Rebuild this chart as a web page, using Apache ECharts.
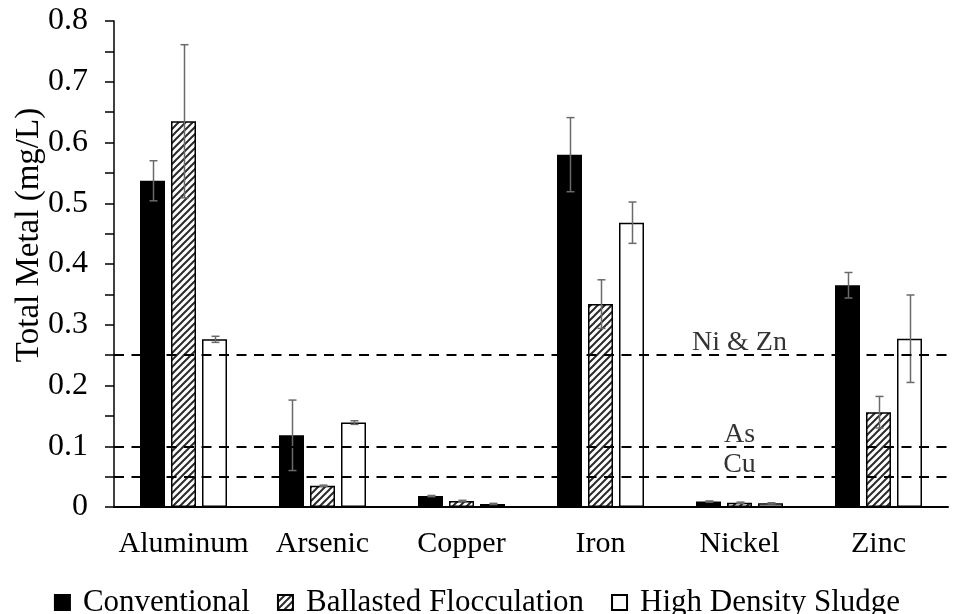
<!DOCTYPE html>
<html>
<head>
<meta charset="utf-8">
<script src="https://cdn.jsdelivr.net/npm/echarts@6/dist/echarts.min.js"></script>
<style>
html,body{margin:0;padding:0;background:#fff;}
#chart{width:954px;height:614px;}
</style>
</head>
<body>
<div id="chart"></div>
<script>
// ---- data ----
const categories = ['Aluminum', 'Arsenic', 'Copper', 'Iron', 'Nickel', 'Zinc'];
const seriesNames = ['Conventional', 'Ballasted Flocculation', 'High Density Sludge'];
const conventional = [0.537, 0.118, 0.018, 0.580, 0.009, 0.365];
const conventionalErr = [0.033, 0.058, 0.001, 0.061, 0.001, 0.021];
const ballasted = [0.635, 0.035, 0.010, 0.334, 0.007, 0.156];
const ballastedErr = [0.126, 0.001, 0.001, 0.040, 0.001, 0.026];
const hds = [0.276, 0.139, 0.005, 0.468, 0.006, 0.277];
const hdsErr = [0.005, 0.003, 0.001, 0.034, 0.001, 0.072];
const limitValues = [0.25, 0.1, 0.05];
const limitNames = ['Ni & Zn', 'As', 'Cu'];
const limitLabelCategory = 'Nickel';
const yTicks = [0, 0.1, 0.2, 0.3, 0.4, 0.5, 0.6, 0.7, 0.8];

// ---- styling ----
const FONT = "'Liberation Serif', 'Times New Roman', serif";
const BAR_W = 25;
const GAP_RATIO = 0.24;

function hatch() {
  const s = 7;
  const c = document.createElement('canvas');
  c.width = s; c.height = s;
  const g = c.getContext('2d');
  g.fillStyle = '#fff';
  g.fillRect(0, 0, s, s);
  g.strokeStyle = '#2b2b2b';
  g.lineWidth = 2;
  g.beginPath();
  g.moveTo(-1, s + 1); g.lineTo(s + 1, -1);
  g.moveTo(-s / 2 - 1, s / 2 + 1); g.lineTo(s / 2 + 1, -s / 2 - 1);
  g.moveTo(s / 2 - 1, s * 1.5 + 1); g.lineTo(s * 1.5 + 1, s / 2 - 1);
  g.stroke();
  return c;
}
const hatchPattern = { image: hatch(), repeat: 'repeat' };

const barStyles = [
  { color: '#000', borderColor: '#000', borderWidth: 1.5 },
  { color: hatchPattern, borderColor: '#000', borderWidth: 1.5 },
  { color: '#fff', borderColor: '#000', borderWidth: 1.5 }
];
const values = [conventional, ballasted, hds];
const errs = [conventionalErr, ballastedErr, hdsErr];

const series = [];
values.forEach((vals, i) => {
  series.push({
    name: seriesNames[i],
    type: 'bar',
    data: vals,
    barWidth: BAR_W,
    barGap: (GAP_RATIO * 100) + '%',
    itemStyle: barStyles[i],
    z: 2,
    emphasis: { disabled: true }
  });
});
values.forEach((vals, i) => {
  const offset = (i - 1) * BAR_W * (1 + GAP_RATIO);
  series.push({
    type: 'custom',
    z: 3,
    silent: true,
    data: vals.map((v, k) => [k, v, errs[i][k]]),
    renderItem: function (params, api) {
      const k = api.value(0), v = api.value(1), e = api.value(2);
      const top = api.coord([k, v + e]);
      const bot = api.coord([k, v - e]);
      const x = Math.round(top[0] + offset) + 0.5;
      const cap = 4;
      const st = { stroke: '#6a6a6a', lineWidth: 1.5 };
      return {
        type: 'group',
        children: [
          { type: 'line', shape: { x1: x, y1: top[1], x2: x, y2: bot[1] }, style: st },
          { type: 'line', shape: { x1: x - cap, y1: top[1], x2: x + cap, y2: top[1] }, style: st },
          { type: 'line', shape: { x1: x - cap, y1: bot[1], x2: x + cap, y2: bot[1] }, style: st }
        ]
      };
    }
  });
});
// limit lines
series.push({
  type: 'scatter',
  z: 5,
  silent: true,
  symbolSize: 0,
  data: limitValues.map((v, i) => ({ value: [limitLabelCategory, v], name: limitNames[i] })),
  label: {
    show: true,
    position: 'top',
    distance: -2,
    formatter: p => p.name,
    color: '#000',
    fontFamily: FONT,
    fontSize: 28
  },
  markLine: {
    silent: true,
    symbol: 'none',
    label: { show: false },
    lineStyle: { color: '#000', width: 2, type: [10, 7.5] },
    data: limitValues.map(v => ({ yAxis: v }))
  }
});

const chart = echarts.init(document.getElementById('chart'), null, { renderer: 'canvas' });
chart.setOption({
  animation: false,
  backgroundColor: '#fff',
  grid: { left: 114, right: 6, top: 21, bottom: 107, containLabel: false, outerBoundsMode: 'none' },
  legend: {
    data: seriesNames,
    left: 'center',
    top: 582,
    itemWidth: 15,
    itemHeight: 15,
    itemGap: 27,
    icon: 'rect',
    textStyle: { fontFamily: FONT, fontSize: 31, color: '#000', padding: [0, 0, 0, 8] }
  },
  xAxis: {
    type: 'category',
    data: categories,
    axisLine: { lineStyle: { color: '#000', width: 2 } },
    axisTick: { show: false },
    axisLabel: { interval: 0, fontFamily: FONT, fontSize: 30, color: '#000', margin: 22 },
    splitLine: { show: false }
  },
  yAxis: {
    type: 'value',
    min: 0,
    max: 0.8,
    interval: 0.05,
    name: 'Total Metal (mg/L)',
    nameLocation: 'middle',
    nameGap: 68,
    nameMoveOverlap: false,
    nameTextStyle: { fontFamily: FONT, fontSize: 33, color: '#000', padding: [0, 0, 0, 58] },
    axisLine: { show: true, lineStyle: { color: '#000', width: 1.5 } },
    axisTick: { show: true, length: 9, lineStyle: { color: '#000', width: 1.5 } },
    axisLabel: {
      fontFamily: FONT, fontSize: 32, color: '#000', margin: 26,
      formatter: function (v) {
        const r = Math.round(v * 100) / 100;
        const hit = yTicks.find(t => Math.abs(t - r) < 1e-9);
        return hit === undefined ? '' : String(hit);
      }
    },
    splitLine: { show: false }
  },
  series: series
});
</script>
</body>
</html>
